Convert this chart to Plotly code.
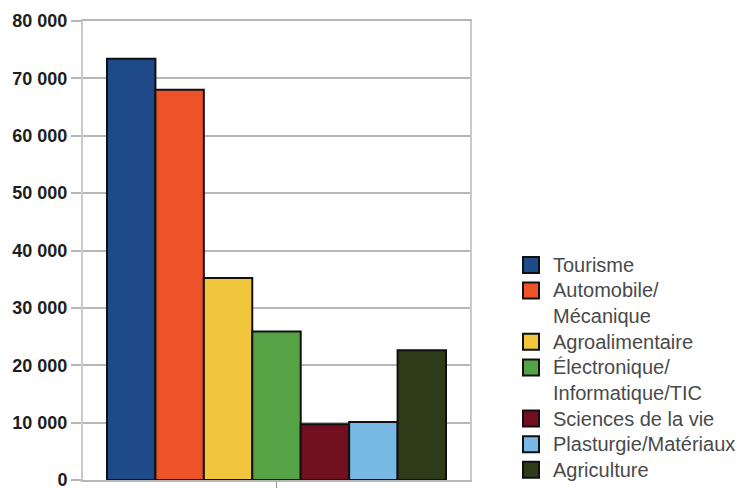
import plotly.graph_objects as go

# Secteurs et effectifs
sectors = [
    "Tourisme",
    "Automobile/<br>Mécanique",
    "Agroalimentaire",
    "Électronique/<br>Informatique/TIC",
    "Sciences de la vie",
    "Plasturgie/Matériaux",
    "Agriculture",
]
values = [73400, 68000, 35200, 25900, 9700, 10100, 22600]
colors = ["#1f4a8a", "#ee5228", "#f1c63d", "#55a345", "#720f20", "#78b9e5", "#2e3b19"]
y_ticks = [0, 10000, 20000, 30000, 40000, 50000, 60000, 70000, 80000]

fig = go.Figure()
for name, val, col in zip(sectors, values, colors):
    fig.add_trace(go.Bar(
        x=["Secteurs"], y=[val], name=name.replace("<br>", ""),
        marker=dict(color=col, line=dict(color="#111111", width=2)),
        showlegend=False,
    ))

# Plot area geometry (pixels) used to place the side legend
W, H = 742, 490
L, R, T, B = 83, 272, 21, 10
pw, ph = W - L - R, H - T - B

def px_x(x):
    return (x - L) / pw

def px_y(y):
    return (H - B - y) / ph

# Side legend: one line of text every 25.6 px, starting at y = 265
line0, step = 265, 25.6
annotations, shapes = [], []
k = 0
for name, col in zip(sectors, colors):
    n = name.count("<br>") + 1
    first = line0 + k * step
    mid = first + (n - 1) * step / 2
    annotations.append(dict(
        xref="paper", yref="paper", x=px_x(551), y=px_y(mid),
        xanchor="left", yanchor="middle", align="left", showarrow=False,
        text=name, font=dict(family="Liberation Sans, Arial, sans-serif", size=20, color="#4a4a4a"),
    ))
    shapes.append(dict(
        type="rect", xref="paper", yref="paper",
        x0=px_x(523), x1=px_x(539), y0=px_y(first - 8), y1=px_y(first + 8),
        fillcolor=col, line=dict(color="#111111", width=2),
    ))
    k += n

fig.update_layout(
    width=W, height=H,
    margin=dict(l=L, r=R, t=T, b=B),
    paper_bgcolor="white", plot_bgcolor="white",
    barmode="group", bargap=0.124, bargroupgap=0,
    separators=". ",
    annotations=annotations, shapes=shapes,
    xaxis=dict(
        range=[-0.5, 0.5], showticklabels=False, showgrid=False, automargin=False,
        ticks="outside", ticklen=6, tickwidth=1, tickcolor="#9a9a9a",
        showline=True, linecolor="#b9b5b3", linewidth=2, mirror=True,
    ),
    yaxis=dict(
        range=[0, 80000], tickvals=y_ticks, tickformat=",d", automargin=False,
        ticklabeloverflow="allow",
        ticks="outside", ticklen=10, tickwidth=2, tickcolor="#b9b5b3",
        showgrid=True, gridcolor="#b9b5b3", gridwidth=2, zeroline=False,
        showline=True, linecolor="#cbc8c6", linewidth=2, mirror=True,
        tickfont=dict(family="Liberation Sans, Arial, sans-serif", size=18, color="#1e1e1e", weight="bold"),
    ),
)

fig.write_html("out.html")
